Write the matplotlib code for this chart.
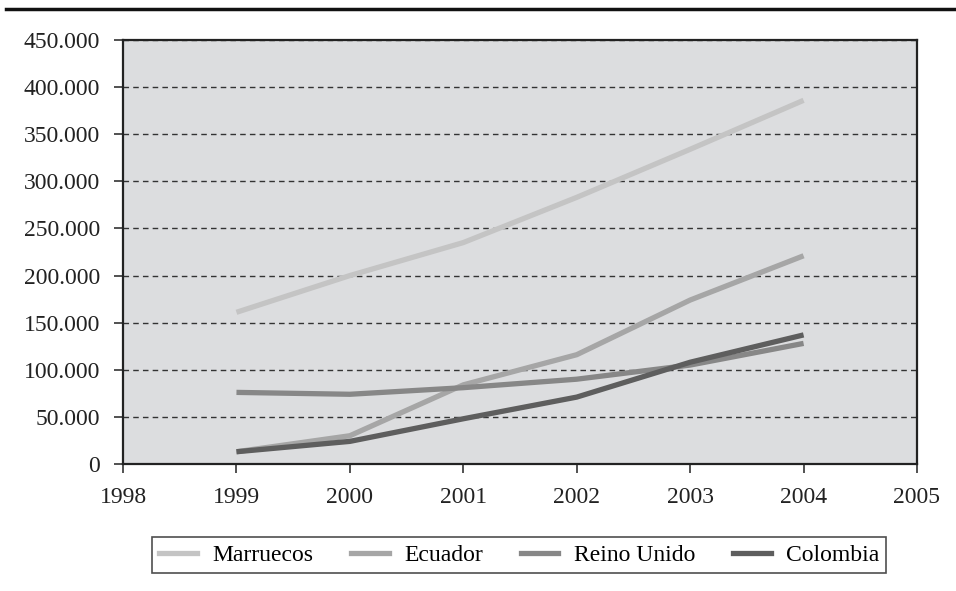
import matplotlib.pyplot as plt
from matplotlib.lines import Line2D
from matplotlib.ticker import FuncFormatter

years = [1999, 2000, 2001, 2002, 2003, 2004]
marruecos = [161000, 200000, 235000, 283000, 334000, 386000]
ecuador = [13000, 30000, 84000, 116000, 174000, 221000]
reino_unido = [76000, 74000, 81000, 90000, 105000, 128000]
colombia = [13000, 24000, 48000, 71000, 108000, 137000]

names = ['Marruecos', 'Ecuador', 'Reino Unido', 'Colombia']
colors = ['#c4c4c4', '#a6a6a6', '#878787', '#5e5e5e']


def main():
    plt.rcParams['font.family'] = ['Liberation Serif', 'DejaVu Serif']
    fig = plt.figure(figsize=(9.56, 5.91), dpi=100)
    ax = fig.add_axes([0.1287, 0.2149, 0.8305, 0.7174])
    ax.set_facecolor('#dcdddf')

    for vals, name, c in zip([marruecos, ecuador, reino_unido, colombia], names, colors):
        ax.plot(years, vals, color=c, linewidth=3.8, label=name, solid_capstyle='butt')

    ax.set_xlim(1998, 2005)
    ax.set_ylim(0, 450000)
    ax.set_xticks(range(1998, 2006))
    ax.set_yticks(range(0, 450001, 50000))
    ax.yaxis.set_major_formatter(FuncFormatter(lambda v, p: '0' if v == 0 else f'{int(v):,}'.replace(',', '.')))
    ax.grid(axis='y', color='#333333', linestyle=(0, (4, 3)), linewidth=1)
    ax.set_axisbelow(True)
    for s in ax.spines.values():
        s.set_linewidth(1.6)
        s.set_color('#222222')
    ax.tick_params(axis='both', direction='out', length=6.5, width=1.1, labelsize=17, colors='#222222')
    ax.tick_params(axis='y', pad=10)
    ax.tick_params(axis='x', pad=10)

    # legend below the plot
    handles = [Line2D([0], [0], color=c, linewidth=3.8) for c in colors]
    leg = fig.legend(handles, names, loc='center', bbox_to_anchor=(0.543, 0.0609), ncol=4,
                     frameon=True, fancybox=False, edgecolor='#222222', fontsize=17,
                     handlelength=1.6, handletextpad=0.65, columnspacing=1.6,
                     borderpad=0.3, borderaxespad=0)
    leg.get_frame().set_linewidth(1.2)

    # thick rule at the top
    fig.add_artist(Line2D([0.006, 1.0], [0.984, 0.984], color='#111111', linewidth=2.5))

    plt.savefig('out.png')


if __name__ == "__main__":
    main()
